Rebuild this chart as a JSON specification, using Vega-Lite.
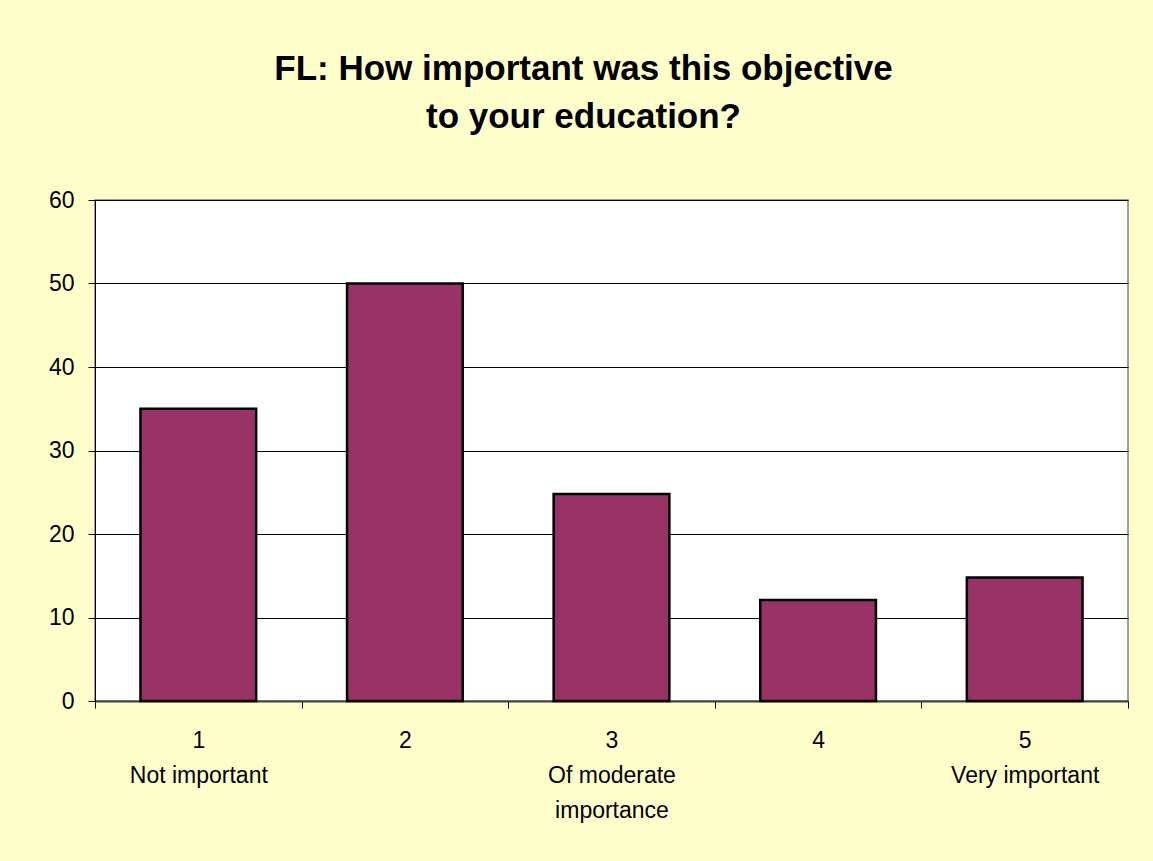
{
  "$schema": "https://vega.github.io/schema/vega-lite/v6.json",
  "width": 1033,
  "height": 501,
  "autosize": {"type": "none"},
  "padding": {"left": 95, "top": 200, "right": 25, "bottom": 160},
  "background": "#FFFFCC",
  "title": {
    "text": ["FL: How important was this objective", "to your education?"],
    "font": "Liberation Sans",
    "fontSize": 35,
    "fontWeight": "bold",
    "color": "black",
    "lineHeight": 48,
    "anchor": "middle",
    "dx": -28,
    "offset": 54
  },
  "data": {
    "values": [
      {"cat": "1|Not important", "v": 35},
      {"cat": "2", "v": 50},
      {"cat": "3|Of moderate|importance", "v": 24.8},
      {"cat": "4", "v": 12.1},
      {"cat": "5|Very important", "v": 14.8}
    ]
  },
  "mark": {"type": "bar", "fill": "#993366", "stroke": "black", "strokeWidth": 2.5, "width": {"band": 0.56}},
  "encoding": {
    "x": {
      "field": "cat",
      "type": "nominal",
      "sort": null,
      "scale": {"paddingInner": 0, "paddingOuter": 0},
      "axis": {
        "title": null,
        "labelAngle": 0,
        "labelExpr": "split(datum.label, '|')",
        "labelFont": "Liberation Sans",
        "labelFontSize": 23,
        "labelColor": "black",
        "labelLineHeight": 35,
        "labelBaseline": "top",
        "labelPadding": 21,
        "tickBand": "extent",
        "tickSize": 7,
        "tickColor": "black",
        "domainColor": "#404040",
        "domainWidth": 2,
        "grid": false
      }
    },
    "y": {
      "field": "v",
      "type": "quantitative",
      "scale": {"domain": [0, 60], "nice": false},
      "axis": {
        "title": null,
        "values": [0, 10, 20, 30, 40, 50, 60],
        "labelFont": "Liberation Sans",
        "labelFontSize": 23,
        "labelColor": "black",
        "labelPadding": 14,
        "tickSize": 7,
        "tickColor": "black",
        "domainColor": "black",
        "grid": true,
        "gridColor": "black",
        "gridOpacity": 1,
        "gridWidth": 1
      }
    }
  },
  "config": {
    "view": {"fill": "white", "stroke": "#808080", "strokeWidth": 1.5}
  }
}
